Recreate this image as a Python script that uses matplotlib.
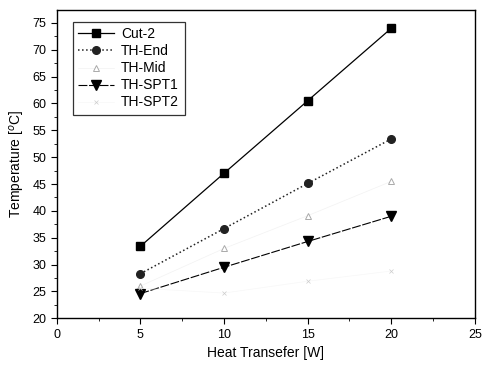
import numpy as np
import matplotlib.pyplot as plt

plt.rcParams['font.family'] = ['Liberation Sans', 'DejaVu Sans']

# dados
potencia = [5, 10, 15, 20]
cut2 = [33.4, 47.0, 60.5, 74.0]
th_end = [28.3, 36.7, 45.1, 53.4]
th_mid = [26.0, 33.0, 39.1, 45.5]
th_spt1 = [24.6, 29.5, 34.3, 39.0]
th_spt2 = [25.6, 24.7, 26.9, 28.8]

fig = plt.figure(figsize=(4.83, 3.67), dpi=100)
ax = fig.add_axes([0.1174, 0.1327, 0.8660, 0.8401])

ax.plot(potencia, cut2, color='black', linestyle='-', linewidth=0.9,
        marker='s', markersize=5.5, label='Cut-2')
ax.plot(potencia, th_end, color='#222222', linestyle=':', linewidth=1.1,
        marker='o', markersize=5.5, label='TH-End')
ax.plot(potencia, th_mid, color='#f2f2f2', linestyle='-', linewidth=0.5,
        marker='^', markersize=4.5, markerfacecolor='white',
        markeredgecolor='#aaaaaa', markeredgewidth=0.7, label='TH-Mid')
ax.plot(potencia, th_spt1, color='black', linestyle=(0, (8, 1.5)), linewidth=0.8,
        marker='v', markersize=6.5, label='TH-SPT1')
ax.plot(potencia, th_spt2, color='#f7f7f7', linestyle='-', linewidth=0.5,
        marker='x', markersize=3, markeredgecolor='#cccccc',
        markeredgewidth=0.5, label='TH-SPT2')

ax.set_xlim(0, 25)
ax.set_ylim(20, 77.4)
ax.set_xticks(np.arange(0, 26, 5))
ax.set_yticks(np.arange(20, 76, 5))
ax.set_xticks(np.arange(0, 25.1, 2.5), minor=True)
ax.set_yticks(np.arange(20, 77, 2.5), minor=True)
ax.tick_params(direction='out', length=4, width=0.8, labelsize=9)
ax.tick_params(which='minor', direction='out', length=2, width=0.6)
for s in ax.spines.values():
    s.set_linewidth(1.0)

ax.set_xlabel('Heat Transefer [W]', fontsize=10)
ax.set_ylabel('Temperature [$^o$C]', fontsize=10)

leg = ax.legend(loc='upper left', bbox_to_anchor=(0.038, 0.962), fontsize=10,
                frameon=True, fancybox=False, edgecolor='black',
                handlelength=2.6, handletextpad=0.5, labelspacing=0.22,
                borderpad=0.4, borderaxespad=0)
leg.get_frame().set_linewidth(0.9)

fig.savefig('out.png', dpi=100)
